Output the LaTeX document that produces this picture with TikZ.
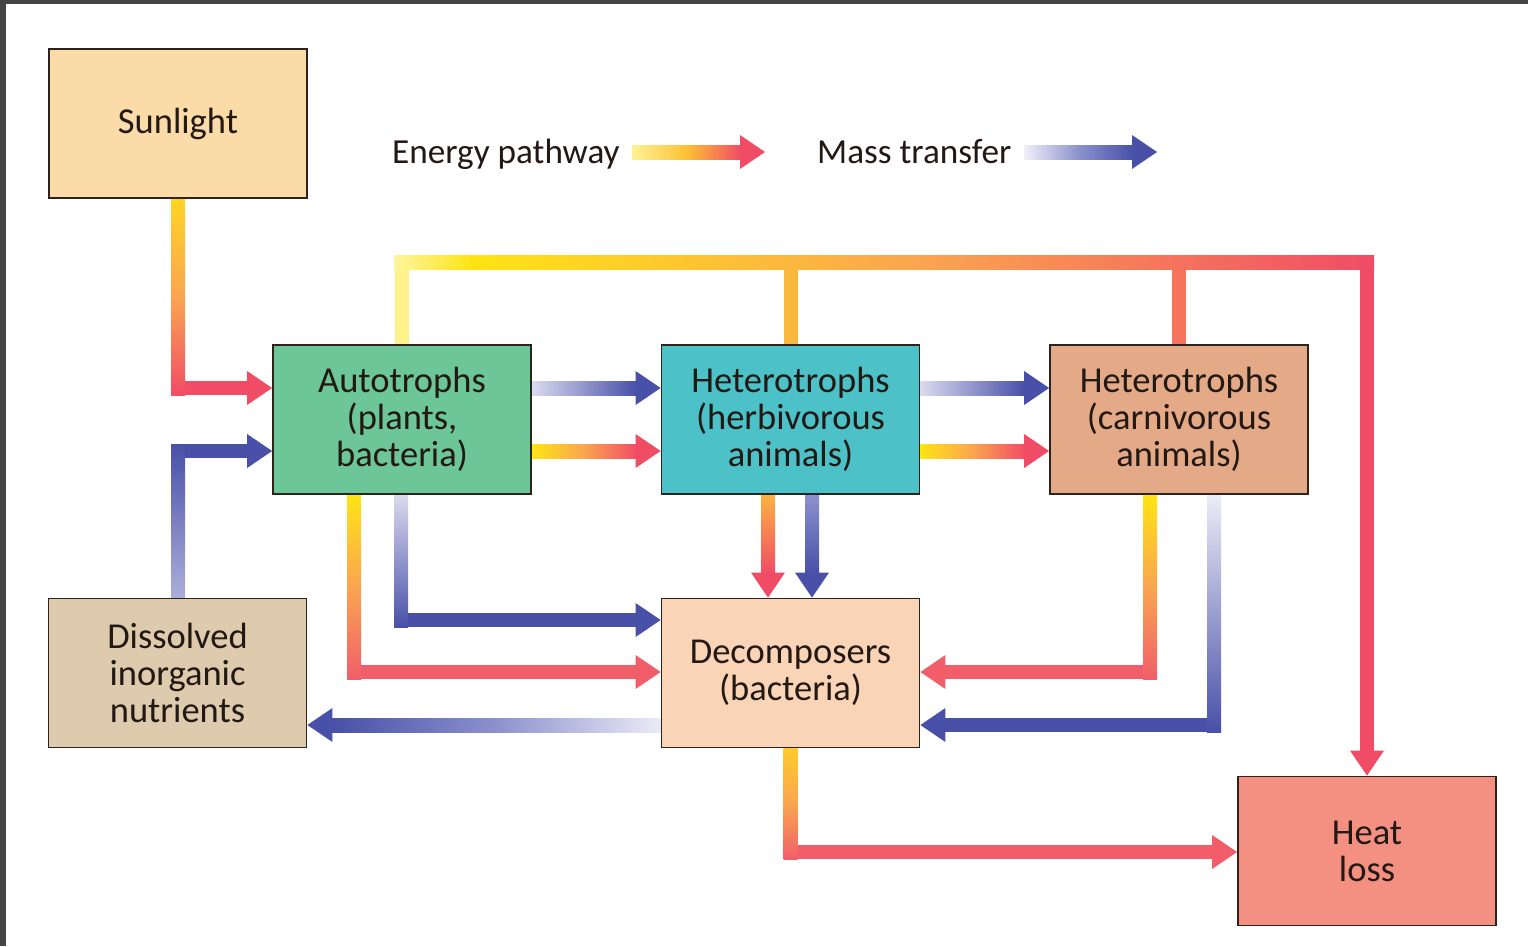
\documentclass[tikz,border=0pt]{standalone}
\usepackage{fontspec}
\setmainfont{Carlito}
\usetikzlibrary{calc}
\pgfdeclarelayer{bg}
\pgfsetlayers{bg,main}
\definecolor{eY}{RGB}{255,228,20}
\definecolor{eP}{RGB}{255,242,150}
\definecolor{eO}{RGB}{250,165,80}
\definecolor{eR}{RGB}{241,76,102}
\definecolor{eC}{RGB}{241,94,106}
\definecolor{mB}{RGB}{72,80,168}
\definecolor{mM}{RGB}{140,145,205}
\definecolor{mP}{RGB}{218,218,238}
\definecolor{sunF}{RGB}{251,219,167}
\definecolor{autoF}{RGB}{108,198,152}
\definecolor{herbF}{RGB}{77,193,200}
\definecolor{carnF}{RGB}{228,170,136}
\definecolor{dissF}{RGB}{222,202,172}
\definecolor{decF}{RGB}{250,212,183}
\definecolor{heatF}{RGB}{244,144,130}
\definecolor{bord}{RGB}{45,35,28}
\definecolor{txt}{RGB}{35,25,20}
\definecolor{frame}{RGB}{68,68,68}
\tikzset{
  box/.style={draw=bord, line width=1.8pt, minimum width=258pt, minimum height=149pt,
    align=center, inner sep=0pt, text=txt, font=\fontsize{36.5}{37}\selectfont},
  lbl/.style={inner sep=0pt, text=txt, font=\fontsize{35.2}{37}\selectfont}
}
\newcommand\hdR[2]{\fill[#2] (#1) -- ++(-25,-17) -- ++(0,34) -- cycle;}
\newcommand\hdL[2]{\fill[#2] (#1) -- ++(25,-17) -- ++(0,34) -- cycle;}
\newcommand\hdD[2]{\fill[#2] (#1) -- ++(-17,-25) -- ++(34,0) -- cycle;}
\begin{document}
\begin{tikzpicture}[x=1pt,y=-1pt]
\useasboundingbox (0,0) rectangle (1528,946);
% boxes
\node[box,fill=sunF]  (sun)  at (178,123.5) {Sunlight};
\node[box,fill=autoF] (auto) at (402,419.5) {Autotrophs\\(plants,\\bacteria)};
\node[box,fill=herbF] (herb) at (790.5,419.5) {Heterotrophs\\(herbivorous\\animals)};
\node[box,fill=carnF] (carn) at (1179,419.5) {Heterotrophs\\(carnivorous\\animals)};
\node[box,fill=dissF] (diss) at (177.5,673) {Dissolved\\inorganic\\nutrients};
\node[box,fill=decF]  (dec)  at (790.5,673) {Decomposers\\(bacteria)};
\node[box,fill=heatF] (heat) at (1367,851) {Heat\\loss};
\node[lbl,anchor=base west] (eleg) at (392,163) {Energy pathway};
\node[lbl,anchor=base west] (mleg) at (817,163) {Mass transfer};
\fill[frame] (0,0) rectangle (6,946);
\fill[frame] (0,0) rectangle (1528,4);
\begin{pgfonlayer}{bg}
\fill[white] (0,0) rectangle (1528,946);
% legend arrows
\coordinate (e0) at (632,152); \coordinate (e1) at (765,152);
\shade[left color=eP, right color=eR, middle color=eY!45!eO] ($(e0)+(0,-7)$) rectangle ($(e1)+(-24,7)$);
\hdR{e1}{eR}
\coordinate (m0) at (1024,152); \coordinate (m1) at (1157,152);
\shade[left color=mP!40!white, right color=mB, middle color=mM] ($(m0)+(0,-7)$) rectangle ($(m1)+(-24,7)$);
\hdR{m1}{mB}
% Sunlight -> Autotrophs
\coordinate (k1) at (178,388);
\shade[top color=eY!75!eO, bottom color=eR, middle color=eO] ($(sun.south)+(-7,0)$) rectangle ($(k1)+(7,7)$);
\fill[eR] ($(k1)+(7,-7)$) rectangle ($(auto.west|-k1)+(-24,7)$);
\hdR{auto.west|-k1}{eR}
% Dissolved -> Autotrophs
\coordinate (k2) at (178,451);
\shade[top color=mB, bottom color=mM!60!mP] ($(diss.north-|k2)+(-7,0)$) rectangle ($(k2)+(7,-7)$);
\fill[mB] ($(k2)+(7,-7)$) rectangle ($(auto.west|-k2)+(-24,7)$);
\hdR{auto.west|-k2}{mB}
% Autotrophs -> Herbivores
\shade[left color=mP, right color=mB] ($(auto.east|-k1)+(0,-7)$) rectangle ($(herb.west|-k1)+(-24,7)$);
\hdR{herb.west|-k1}{mB}
\shade[left color=eY, right color=eR, middle color=eO] ($(auto.east|-k2)+(0,-7)$) rectangle ($(herb.west|-k2)+(-24,7)$);
\hdR{herb.west|-k2}{eR}
% Herbivores -> Carnivores
\shade[left color=mP, right color=mB] ($(herb.east|-k1)+(0,-7)$) rectangle ($(carn.west|-k1)+(-24,7)$);
\hdR{carn.west|-k1}{mB}
\shade[left color=eY, right color=eR, middle color=eO] ($(herb.east|-k2)+(0,-7)$) rectangle ($(carn.west|-k2)+(-24,7)$);
\hdR{carn.west|-k2}{eR}
% top energy bar to heat loss
\coordinate (t1) at (402,262);
\fill[eY!50!white] ($(auto.north)+(-7,0)$) rectangle ($(auto.north|-t1)+(7,0)$);
\fill[eO!70!eY] ($(herb.north)+(-7,0)$) rectangle ($(herb.north|-t1)+(7,0)$);
\fill[eO!45!eR] ($(carn.north)+(-7,0)$) rectangle ($(carn.north|-t1)+(7,0)$);
\shade[left color=eY!40!white, right color=eY] (394,255) rectangle (471,269);
\shade[left color=eY, right color=eR, middle color=eO] (470,255) rectangle ($(heat.north|-t1)+(7,7)$);
\fill[eR] ($(heat.north|-t1)+(-7,-7)$) rectangle ($(heat.north)+(7,-24)$);
\hdD{heat.north}{eR}
% Autotrophs -> Decomposers (energy)
\coordinate (k8) at (354,672);
\shade[top color=eY, bottom color=eC, middle color=eO] ($(auto.south-|k8)+(-7,0)$) rectangle ($(k8)+(7,7)$);
\fill[eC] ($(k8)+(7,-7)$) rectangle ($(dec.west|-k8)+(-24,7)$);
\hdR{dec.west|-k8}{eC}
% Autotrophs -> Decomposers (mass)
\coordinate (k9) at (401,620);
\shade[top color=mP, bottom color=mB] ($(auto.south-|k9)+(-7,0)$) rectangle ($(k9)+(7,7)$);
\fill[mB] ($(k9)+(7,-7)$) rectangle ($(dec.west|-k9)+(-24,7)$);
\hdR{dec.west|-k9}{mB}
% Herbivores -> Decomposers
\shade[top color=eO!80!eY, bottom color=eR] ($(herb.south)+(-29.5,0)$) rectangle ($(dec.north)+(-15.5,-24)$);
\hdD{$(dec.north)+(-22.5,0)$}{eR}
\shade[top color=mM, bottom color=mB] ($(herb.south)+(14.5,0)$) rectangle ($(dec.north)+(28.5,-24)$);
\hdD{$(dec.north)+(21.5,0)$}{mB}
% Carnivores -> Decomposers (energy)
\coordinate (k12) at (1150,672);
\shade[top color=eY, bottom color=eC, middle color=eO] ($(carn.south-|k12)+(-7,0)$) rectangle ($(k12)+(7,7)$);
\fill[eC] ($(k12)+(-7,-7)$) rectangle ($(dec.east|-k12)+(24,7)$);
\hdL{dec.east|-k12}{eC}
% Carnivores -> Decomposers (mass)
\coordinate (k13) at (1214,725);
\shade[top color=mP!50!white, bottom color=mB] ($(carn.south-|k13)+(-7,0)$) rectangle ($(k13)+(7,7)$);
\fill[mB] ($(k13)+(-7,-7)$) rectangle ($(dec.east|-k13)+(24,7)$);
\hdL{dec.east|-k13}{mB}
% Decomposers -> Dissolved
\shade[left color=mB, right color=mP!55!white, middle color=mM] ($(diss.east|-k13)+(24,-7)$) rectangle ($(dec.west|-k13)+(0,7)$);
\hdL{diss.east|-k13}{mB}
% Decomposers -> Heat loss
\coordinate (k15) at (790.5,852);
\shade[top color=eY!60!eO, bottom color=eC, middle color=eO] ($(dec.south)+(-7,0)$) rectangle ($(k15)+(7,7)$);
\fill[eC] ($(k15)+(7,-7)$) rectangle ($(heat.west|-k15)+(-24,7)$);
\hdR{heat.west|-k15}{eC}
\end{pgfonlayer}
\end{tikzpicture}
\end{document}
